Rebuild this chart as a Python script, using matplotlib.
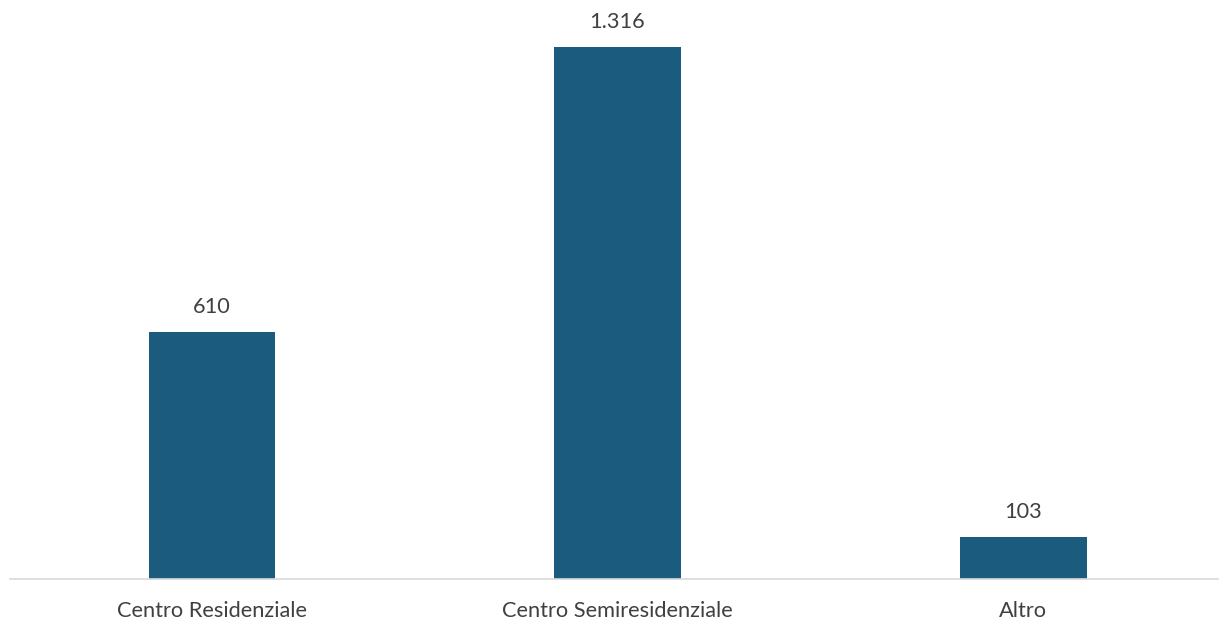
import matplotlib
matplotlib.use("Agg")
import matplotlib.pyplot as plt

categories = ["Centro Residenziale", "Centro Semiresidenziale", "Altro"]
values = [610, 1316, 103]
labels = ["610", "1.316", "103"]

plt.rcParams['font.family'] = ['Lato', 'DejaVu Sans']

fig = plt.figure(figsize=(12.19, 6.2), dpi=100)
ax = fig.add_axes([10/1219, (620-579)/620, 1209/1219, 579/620])

x = list(range(len(categories)))
bars = ax.bar(x, values, width=0.313, color="#1B5C7E", zorder=2)
for xi, v, lab in zip(x, values, labels):
    ax.annotate(lab, (xi, v), xytext=(0, 11), textcoords="offset points",
                ha="center", va="bottom", fontsize=15.7, color="#404040")

ax.set_xlim(-0.498, 2.483)
ax.set_ylim(0, 579/0.4043)
ax.set_xticks(x)
ax.set_xticklabels(categories, fontsize=15.7, color="#404040")
ax.tick_params(axis='x', length=0, pad=16)
ax.set_yticks([])
for s in ["top", "right", "left"]:
    ax.spines[s].set_visible(False)
ax.spines["bottom"].set_color("#D9D9D9")
ax.spines["bottom"].set_linewidth(1.2)

fig.savefig("out.png", dpi=100)
